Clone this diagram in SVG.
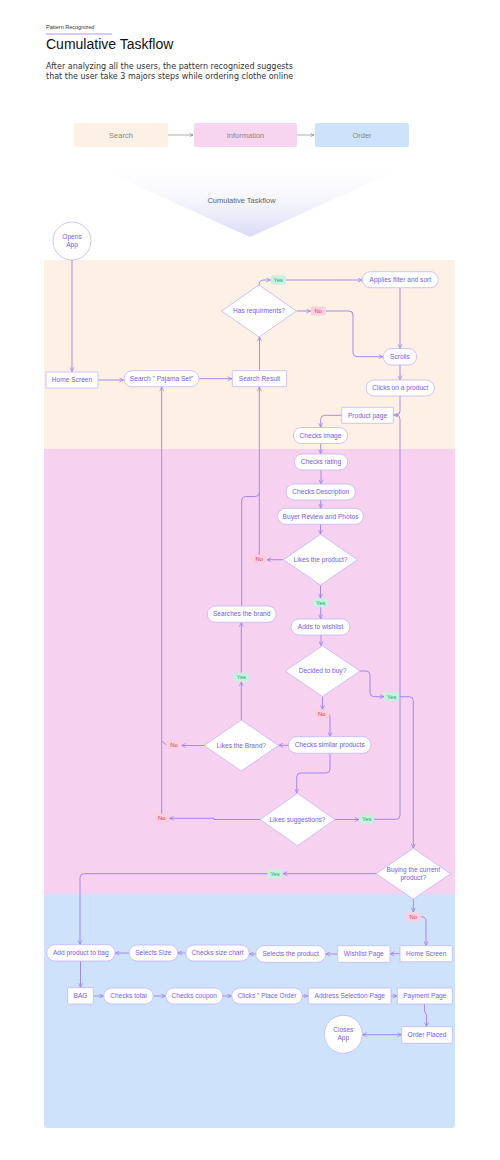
<svg xmlns="http://www.w3.org/2000/svg" width="500" height="1160" viewBox="0 0 500 1160">
<defs>
<linearGradient id="funnel" x1="0" y1="0" x2="0" y2="1">
<stop offset="0" stop-color="#ffffff" stop-opacity="0"/>
<stop offset="1" stop-color="#d9d9f7"/>
</linearGradient>
<marker id="arr" viewBox="0 0 6 6" refX="5.6" refY="3" markerWidth="5" markerHeight="5" markerUnits="userSpaceOnUse" orient="auto-start-reverse">
<path d="M0.6,0.6 L5.6,3 L0.6,5.4" fill="none" stroke="#9d7ff0" stroke-width="0.9"/>
</marker>
<marker id="garr" viewBox="0 0 6 6" refX="5.6" refY="3" markerWidth="4" markerHeight="4" markerUnits="userSpaceOnUse" orient="auto">
<path d="M0.6,0.6 L5.6,3 L0.6,5.4" fill="none" stroke="#777" stroke-width="0.9"/>
</marker>
</defs>
<style>
text{font-family:"Liberation Sans",Arial,sans-serif}
.n rect,.n circle,.n polygon{fill:#ffffff;stroke:#c4b5f5;stroke-width:0.8}
.n text{font-size:6.6px;fill:#7560ea;text-anchor:middle}
.c path{fill:none;stroke:#9d7ff0;stroke-width:0.9}
.m{marker-end:url(#arr)}
.yes rect{fill:#c4f2df}
.yes text{fill:#2b9f78;font-size:5.8px;text-anchor:middle}
.no rect{fill:#f9cfe1}
.no text{fill:#e0356a;font-size:5.8px;text-anchor:middle}
.stage text{font-size:7.5px;fill:#8a8a8a;text-anchor:middle}
</style>
<rect width="500" height="1160" fill="#ffffff"/>

<g id="header">
<text x="46" y="29" font-size="5.5" fill="#333">Pattern Recognized</text>
<line x1="46" y1="34" x2="112" y2="34" stroke="#9d7fe6" stroke-width="0.8"/>
<text x="46" y="48.5" font-size="14" fill="#111">Cumulative Taskflow</text>
<text x="46" y="69" font-size="8" fill="#333" style="font-family:'DejaVu Sans',sans-serif">After analyzing all the users, the pattern recognized suggests</text>
<text x="46" y="79" font-size="8" fill="#333" style="font-family:'DejaVu Sans',sans-serif">that the user take 3 majors steps while ordering clothe online</text>
</g>

<g id="stages" class="stage">
<rect x="74" y="123" width="94" height="24" rx="2" fill="#fdf0e4"/>
<text x="121" y="137.7">Search</text>
<rect x="194" y="123" width="103" height="24" rx="2" fill="#f7d4f0"/>
<text x="245.5" y="137.7">Information</text>
<rect x="315" y="123" width="94" height="24" rx="2" fill="#cde3fb"/>
<text x="362" y="137.7">Order</text>
<line x1="168" y1="135" x2="193" y2="135" stroke="#777" stroke-width="0.6" marker-end="url(#garr)"/>
<line x1="297" y1="135" x2="314" y2="135" stroke="#777" stroke-width="0.6" marker-end="url(#garr)"/>
</g>

<g id="funnel-g">
<polygon points="80,160 420,160 250,237" fill="url(#funnel)"/>
<text x="241.5" y="202.5" font-size="7.5" fill="#666" text-anchor="middle">Cumulative Taskflow</text>
</g>

<g id="lanes">
<path d="M44,263 Q44,260 47,260 H452 Q455,260 455,263 V449 H44 Z" fill="#fdf1e5"/>
<rect x="44" y="449" width="411" height="445" fill="#f6d1f0"/>
<path d="M44,894 H455 V1125 Q455,1128 452,1128 H47 Q44,1128 44,1125 Z" fill="#cee3fb"/>
</g>

<g id="connectors" class="c">
<path class="m" d="M72,260 V371.5"/>
<path class="m" d="M98,380 H123.5"/>
<path class="m" d="M199,378.7 H232"/>
<path class="m" d="M259.5,371 V337"/>
<path class="m" d="M259,285 C259,281.5 261,280 264,280 H270.5"/>
<path class="m" d="M286,280 H362"/>
<path class="m" d="M296.7,311 H310.5"/>
<path class="m" d="M326,311 H349 Q353,311 353,315 V352.7 Q353,356.7 357,356.7 H383"/>
<path class="m" d="M400,288 V348.3"/>
<path class="m" d="M400,365 V379.8"/>
<path class="m" d="M400,396 V411 Q400,415 396,415 H393.6"/>
<path d="M374,819.3 H396 Q400,819.3 400,815.3 V419 Q400,415 396,415"/>
<path class="m" d="M342,415.3 H324.7 Q320.7,415.3 320.7,419.3 V427.3"/>
<path class="m" d="M320.7,443.5 V453.8"/>
<path class="m" d="M321,470 V483.8"/>
<path class="m" d="M320.7,500 V508.1"/>
<path class="m" d="M320.5,524.3 V534.1"/>
<path class="m" d="M283.3,559.7 H267"/>
<path class="m" d="M259.3,554.8 V387"/>
<path class="m" d="M320.5,585.2 V598"/>
<path class="m" d="M320.7,607.2 V618.8"/>
<path class="m" d="M321,635 V645.5"/>
<path class="m" d="M322.5,696.5 V709.5"/>
<path class="m" d="M328,714 Q330,714 330,717 V736.5"/>
<path class="m" d="M360,671 H366 Q370,671 370,675 V692.7 Q370,696.7 374,696.7 H384"/>
<path class="m" d="M399,696.7 H409.3 Q413.3,696.7 413.3,700.7 V848.1"/>
<path class="m" d="M288.3,745.3 H278.9"/>
<path class="m" d="M241.3,720 V682"/>
<path class="m" d="M241.3,672.8 V622.5"/>
<path d="M241.7,606 V500.5 Q241.7,496.5 245.7,496.5 H255.3 Q259.3,496.5 259.3,492.5"/>
<path class="m" d="M204,745.5 H181.5"/>
<path d="M166.5,745 L161.7,741"/>
<path class="m" d="M161.7,813.8 V387"/>
<path class="m" d="M330,753.3 V769 Q330,773 326,773 H300.7 Q296.7,773 296.7,777 V793.1"/>
<path class="m" d="M335,819.5 H359"/>
<path class="m" d="M260,819.5 H214 V818.3 H169.5"/>
<path class="m" d="M376,873.7 H283"/>
<path class="m" d="M267.5,873.7 H84 Q80,873.7 80,877.7 V944.5"/>
<path class="m" d="M413.3,899.2 V912"/>
<path class="m" d="M421,916.7 Q426,916.7 426,921 V945.5"/>
<path class="m" d="M400,953.7 H390.2"/>
<path class="m" d="M337.7,954 H325.9"/>
<path class="m" d="M255.7,954 H249.5"/>
<path class="m" d="M185.7,953 H177.9"/>
<path class="m" d="M129,953 H115.2"/>
<path class="m" d="M80.5,961 V987.5"/>
<path class="m" d="M93.3,996 H103.5"/>
<path class="m" d="M153.3,996 H165.5"/>
<path class="m" d="M222.7,996 H231.5"/>
<path class="m" d="M302.3,996 H308.1"/>
<path class="m" d="M391,996 H397.1"/>
<path class="m" d="M424.5,1004 V1011 L426.5,1015 V1026.5"/>
<path class="m" d="M401.5,1034.7 H362.5" marker-start="url(#arr)"/>
</g>

<g id="labels">
<g class="yes"><rect x="270.8" y="275.5" width="15" height="9" rx="1.5"/><text x="278.3" y="282.1">Yes</text></g>
<g class="no"><rect x="310.8" y="306.5" width="15" height="9" rx="1.5"/><text x="318.3" y="313.1">No</text></g>
<g class="no"><rect x="251.8" y="554.8" width="15" height="9" rx="1.5" fill="#fbe0ec"/><text x="259.3" y="561.4">No</text></g>
<g class="yes"><rect x="313.2" y="598.2" width="15" height="9" rx="1.5"/><text x="320.7" y="604.8">Yes</text></g>
<g class="yes"><rect x="233.8" y="672.8" width="15" height="9" rx="1.5"/><text x="241.3" y="679.4">Yes</text></g>
<g class="no"><rect x="314.2" y="709.5" width="15" height="9" rx="1.5"/><text x="321.7" y="716.1">No</text></g>
<g class="yes"><rect x="384.2" y="692.2" width="15" height="9" rx="1.5"/><text x="391.7" y="698.8">Yes</text></g>
<g class="no"><rect x="166.5" y="740.5" width="15" height="9" rx="1.5"/><text x="174" y="747.1">No</text></g>
<g class="no"><rect x="154.2" y="813.8" width="15" height="9" rx="1.5"/><text x="161.7" y="820.4">No</text></g>
<g class="yes"><rect x="359.2" y="814.8" width="15" height="9" rx="1.5"/><text x="366.7" y="821.4">Yes</text></g>
<g class="yes"><rect x="267.5" y="869.2" width="15" height="9" rx="1.5"/><text x="275" y="875.8">Yes</text></g>
<g class="no"><rect x="405.8" y="912.2" width="15" height="9" rx="1.5"/><text x="413.3" y="918.8">No</text></g>
</g>

<g id="opens-app" class="n"><circle cx="72" cy="241" r="19"/><text x="72" y="238.5">Opens</text><text x="72" y="246.5">App</text></g>
<g id="home-screen-1" class="n"><rect x="46" y="372" width="52" height="16" rx="0.5"/><text x="72" y="382.2">Home Screen</text></g>
<g id="search-pajama" class="n"><rect x="124" y="370.7" width="75" height="16" rx="8"/><text x="161.5" y="380.9">Search " Pajama Set"</text></g>
<g id="search-result" class="n"><rect x="232.3" y="370.7" width="54.4" height="16" rx="0.5"/><text x="259.5" y="380.9">Search Result</text></g>
<g id="has-req" class="n"><polygon points="259,285 296.5,311 259,337 221.5,311"/><text x="259" y="313.2">Has requirments?</text></g>
<g id="applies" class="n"><rect x="362.3" y="271.7" width="76" height="16" rx="8"/><text x="400.3" y="281.9">Applies filter and sort</text></g>
<g id="scrolls" class="n"><rect x="383.3" y="348.5" width="33.4" height="16.5" rx="8.2"/><text x="400" y="358.9">Scrolls</text></g>
<g id="clicks-product" class="n"><rect x="366" y="380" width="68.3" height="16" rx="8"/><text x="400.2" y="390.2">Clicks on a product</text></g>
<g id="product-page" class="n"><rect x="341.7" y="407.3" width="51.6" height="16" rx="0.5"/><text x="367.5" y="417.5">Product page</text></g>
<g id="checks-image" class="n"><rect x="293.3" y="427.5" width="54.4" height="16" rx="8"/><text x="320.5" y="437.7">Checks image</text></g>
<g id="checks-rating" class="n"><rect x="294.3" y="454" width="53.4" height="16" rx="8"/><text x="321" y="464.2">Checks rating</text></g>
<g id="checks-desc" class="n"><rect x="286" y="484" width="69.3" height="16" rx="8"/><text x="320.7" y="494.2">Checks Description</text></g>
<g id="buyer-review" class="n"><rect x="277.7" y="508.3" width="85.6" height="16" rx="8"/><text x="320.5" y="518.5">Buyer Review and Photos</text></g>
<g id="likes-product" class="n"><polygon points="320.5,534.3 357.5,559.7 320.5,585.1 283.5,559.7"/><text x="320.5" y="561.9">Likes the product?</text></g>
<g id="adds-wishlist" class="n"><rect x="291" y="619" width="59" height="16" rx="8"/><text x="320.5" y="629.2">Adds to wishlist</text></g>
<g id="searches-brand" class="n"><rect x="207.3" y="606" width="68.7" height="16.3" rx="8"/><text x="241.7" y="616.3">Searches the brand</text></g>
<g id="decided" class="n"><polygon points="322.5,645.7 360,671 322.5,696.5 285,671"/><text x="322.5" y="673.2">Decided to buy?</text></g>
<g id="checks-similar" class="n"><rect x="288.3" y="736.7" width="82.7" height="16.6" rx="8.3"/><text x="329.7" y="747.2">Checks similar products</text></g>
<g id="likes-brand" class="n"><polygon points="241.3,720 278.6,745.5 241.3,771 204,745.5"/><text x="241.3" y="747.7">Likes the Brand?</text></g>
<g id="likes-suggestions" class="n"><polygon points="297.5,793.3 335,819.5 297.5,845.7 260,819.5"/><text x="297.5" y="821.7">Likes  suggestions?</text></g>
<g id="buying-current" class="n"><polygon points="413.3,848.3 450.6,873.7 413.3,899.1 376,873.7"/><text x="413.3" y="871.6">Buying the current</text><text x="413.3" y="879.6">product?</text></g>
<g id="home-screen-2" class="n"><rect x="400" y="945.7" width="52.3" height="16" rx="0.5"/><text x="426.2" y="955.9">Home Screen</text></g>
<g id="wishlist-page" class="n"><rect x="337.7" y="945.7" width="52.3" height="16.6" rx="0.5"/><text x="363.8" y="956.2">Wishlist Page</text></g>
<g id="selects-product" class="n"><rect x="255.7" y="945.7" width="70" height="16.6" rx="8.3"/><text x="290.7" y="956.2">Selects the product</text></g>
<g id="checks-size-chart" class="n"><rect x="185.7" y="945" width="63.6" height="16" rx="8"/><text x="217.5" y="955.2">Checks size chart</text></g>
<g id="selects-size" class="n"><rect x="129" y="945" width="48.7" height="16" rx="8"/><text x="153.3" y="955.2">Selects Size</text></g>
<g id="add-to-bag" class="n"><rect x="46.7" y="944.7" width="68.3" height="16.3" rx="8"/><text x="80.8" y="955">Add product to bag</text></g>
<g id="bag" class="n"><rect x="67.7" y="987.7" width="25.6" height="16.3" rx="0.5"/><text x="80.5" y="998">BAG</text></g>
<g id="checks-total" class="n"><rect x="103.7" y="988" width="49.6" height="16" rx="8"/><text x="128.5" y="998.2">Checks total</text></g>
<g id="checks-coupon" class="n"><rect x="165.7" y="988" width="57" height="16" rx="8"/><text x="194.2" y="998.2">Checks coupon</text></g>
<g id="place-order" class="n"><rect x="231.7" y="988" width="70.6" height="16" rx="8"/><text x="267" y="998.2">Clicks " Place Order</text></g>
<g id="address-page" class="n"><rect x="308.3" y="988" width="82.7" height="16" rx="0.5"/><text x="349.7" y="998.2">Address Selection Page</text></g>
<g id="payment-page" class="n"><rect x="397.3" y="988" width="55" height="16" rx="0.5"/><text x="424.8" y="998.2">Payment Page</text></g>
<g id="order-placed" class="n"><rect x="401.7" y="1026.7" width="50.6" height="16.6" rx="0.5"/><text x="427" y="1037.2">Order Placed</text></g>
<g id="closes-app" class="n"><circle cx="343.3" cy="1034.3" r="19"/><text x="343.3" y="1032">Closes</text><text x="343.3" y="1040">App</text></g>
</svg>
